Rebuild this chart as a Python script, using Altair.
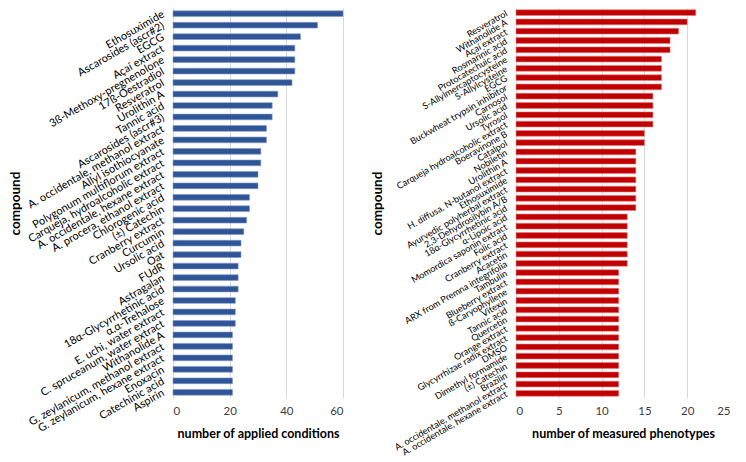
import altair as alt
import pandas as pd

left_compounds = [
    "Ethosuximide", "Ascarosides (ascr#2)", "EGCG", "Açaí extract",
    "3ß-Methoxy-pregnenolone", "17ß-Oestradiol", "Resveratrol", "Urolithin A",
    "Tannic acid", "Ascarosides (ascr#3)", "A. occidentale, methanol extract",
    "Allyl isothiocyanate", "Polygonum multiflorum extract",
    "Carqueja, hydroalcoholic extract", "A. occidentale, hexane extract",
    "A. procera, ethanol extract", "Chlorogenic acid", "(±) Catechin",
    "Cranberry extract", "Curcumin", "Ursolic acid", "Oat", "FUdR", "Astragalan",
    "18α-Glycyrrhetinic acid", "α,α-Trehalose", "E. uchi, water extract",
    "C. spruceanum, water extract", "Withanolide A",
    "G. zeylanicum, methanol extract", "G. zeylanicum, hexane extract",
    "Enoxacin", "Catechinic acid", "Aspirin",
]
left_values = [60, 51, 45, 43, 43, 43, 42, 37, 35, 35, 33, 33, 31, 31, 30, 30,
               27, 27, 26, 25, 24, 24, 23, 23, 23, 22, 22, 22, 21, 21, 21, 21, 21, 21]

right_compounds = [
    "Resveratrol", "Withanolide A", "Açaí extract", "Rosmarinic acid",
    "Protocatechuic acid", "S-Allylmercaptocysteine", "S-Allylcysteine", "EGCG",
    "Buckwheat trypsin inhibitor", "Carnosol", "Ursolic acid", "Tyrosol",
    "Carqueja hydroalcoholic extract", "Boeravinone B", "Catalpol", "Nobiletin",
    "Urolithin A", "H. diffusa, N-butanol extract", "Ethosuximide",
    "Ayurvedic polyherbal extract", "2,3-Dehydrosilybin A/B",
    "18α-Glycyrrhetinic acid", "α-Lipoic acid", "Momordica saponin extract",
    "Folic acid", "Cranberry extract", "Acacetin", "ARX from Premna integrifolia",
    "Tambulin", "Blueberry extract", "ß-Caryophyllene", "Vitexin", "Tannic acid",
    "Quercetin", "Orange extract", "Glycyrrhizae radix extract", "DMSO",
    "Dimethyl formamide", "(±) Catechin", "Brazilin",
    "A. occidentale, methanol extract", "A. occidentale, hexane extract",
]
right_values = [21, 20, 19, 18, 18, 17, 17, 17, 17, 16, 16, 16, 16, 15, 15,
                14, 14, 14, 14, 14, 14, 14, 13, 13, 13, 13, 13, 13,
                12, 12, 12, 12, 12, 12, 12, 12, 12, 12, 12, 12, 12, 12]

left_ticks = [0, 20, 40, 60]
right_ticks = [0, 5, 10, 15, 20, 25]

FONT = "Lato"


def panel(compounds, values, color, stroke, xtitle, domain, ticks, width,
          label_size, pad_inner, title_pad):
    df = pd.DataFrame({"compound": compounds, "n": values})
    return alt.Chart(df).mark_bar(color=color, stroke=stroke, strokeWidth=0.6).encode(
        x=alt.X("n:Q", title=xtitle,
                scale=alt.Scale(domain=domain, nice=False),
                axis=alt.Axis(values=ticks, grid=True, gridColor="#D9D9D9",
                              domain=False, ticks=False, labelFont=FONT,
                              labelFontSize=11.5, labelColor="#404040",
                              labelPadding=7, titleFont=FONT, titleFontSize=12.5,
                              titleFontWeight="bold", titleColor="#000000",
                              titlePadding=11)),
        y=alt.Y("compound:N", sort=compounds, title="compound",
                scale=alt.Scale(paddingInner=pad_inner, paddingOuter=pad_inner / 2),
                axis=alt.Axis(labelAngle=330, labelAlign="right",
                              labelBaseline="middle", labelLimit=0,
                              labelOverlap=False, labelFont=FONT,
                              labelFontSize=label_size, labelColor="#000000",
                              labelPadding=10, ticks=False, domain=False,
                              titleFont=FONT, titleFontSize=13.5,
                              titleFontWeight="bold", titleColor="#000000",
                              titlePadding=title_pad)),
    ).properties(width=width, height=390)


left = panel(left_compounds, left_values, "#2F5597", "#7F9BCB",
             "number of applied conditions", [0, 60], left_ticks, 170, 11, 0.5, 3)
right = panel(right_compounds, right_values, "#C00000", "#E88080",
              "number of measured phenotypes", [0, 25], right_ticks, 214, 9.1, 0.38, 8)

chart = alt.hconcat(left, right, spacing=26).configure_view(stroke=None).properties(
    padding=0,
    background="white",
)

chart.save("out.html", embed_options={"renderer": "svg", "actions": False})
